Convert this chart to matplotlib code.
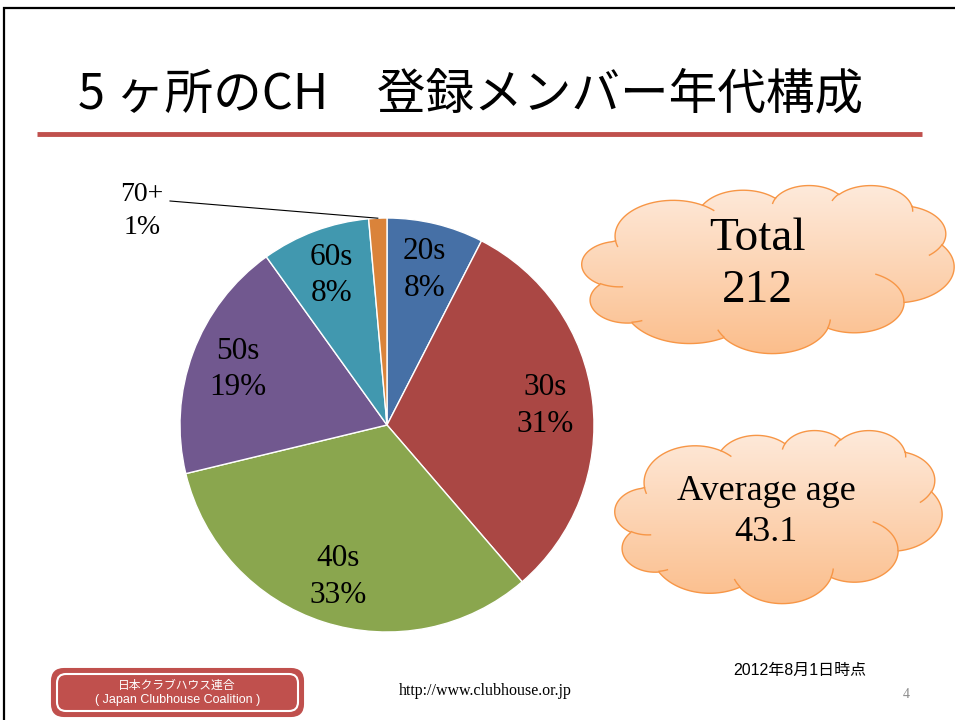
import numpy as np
import matplotlib
matplotlib.use("Agg")
import matplotlib.pyplot as plt
from matplotlib.path import Path
from matplotlib.patches import PathPatch, FancyBboxPatch, Rectangle

# data
ages = ["20s", "30s", "40s", "50s", "60s", "70+"]
counts = [16, 66, 69, 40, 18, 3]
colors = ["#4670A6", "#AA4744", "#8AA64E", "#71588F", "#4198AF", "#DA833A"]
avg_age = 43.1

title = "5 ヶ所のCH　登録メンバー年代構成"
footer_jp = "日本クラブハウス連合"
footer_en = "( Japan Clubhouse Coalition )"
url = "http://www.clubhouse.or.jp"
date_note = "2012年8月1日時点"
page_no = "4"

W, H = 955, 720
SERIF = "Liberation Serif"
CJK = ["Noto Sans CJK JP", "DejaVu Sans"]


def fy(y):
    # slide is laid out in image pixels, y downwards
    return H - y


# PowerPoint "cloud" preset geometry (43200 x 43200 path space)
CLOUD_START = (3900, 14370)
CLOUD_ARCS = [
    (6753, 9190, -11429249, 7426832),
    (5333, 7267, -8646143, 5396714),
    (4365, 5945, -8748475, 5983381),
    (4857, 6595, -7859164, 7034504),
    (5333, 7273, -4722533, 6541615),
    (6775, 9220, -2776035, 7816140),
    (5785, 7867, 37501, 6842000),
    (6752, 9215, 1347096, 6910353),
    (7720, 10543, 3974558, 4542661),
    (4360, 5918, -16496525, 8804134),
    (4345, 5945, -14809710, 9151131),
]
CLOUD_CREASES = [
    ((4693, 26177), (4345, 5945, 5204520, 1585770)),
    ((6928, 34899), (4360, 5918, 4416628, 686848)),
    ((16478, 39090), (6752, 9215, 8257449, 844866)),
    ((28827, 34751), (6752, 9215, 387196, 959901)),
    ((34129, 22954), (5785, 7867, -4217541, 4255042)),
    ((41798, 15354), (5333, 7273, 1819082, 1665090)),
    ((38324, 5426), (4857, 6595, -824660, 891534)),
    ((29078, 3952), (4857, 6595, -8950887, 1091722)),
    ((22141, 4720), (4365, 5945, -9809656, 1061181)),
    ((14000, 5192), (6753, 9190, -4002417, 739161)),
    ((4127, 15789), (6753, 9190, 9459261, 711490)),
]


def arc(x0, y0, wr, hr, st, sw, n=40):
    th = np.deg2rad(np.linspace(st, st + sw, n) / 60000.0)
    t = np.arctan2(wr * np.sin(th), hr * np.cos(th))
    cx = x0 - wr * np.cos(t[0])
    cy = y0 - hr * np.sin(t[0])
    return cx + wr * np.cos(t), cy + hr * np.sin(t)


def to_slide(px, py, box):
    x0, y0, x1, y1 = box
    return x0 + np.asarray(px) / 43200 * (x1 - x0), fy(y0 + np.asarray(py) / 43200 * (y1 - y0))


def cloud(ax, box, text, tx, ty, size, lsp):
    xs, ys = [CLOUD_START[0]], [CLOUD_START[1]]
    for wr, hr, st, sw in CLOUD_ARCS:
        ax_, ay_ = arc(xs[-1], ys[-1], wr, hr, st, sw)
        xs += list(ax_[1:])
        ys += list(ay_[1:])
    X, Y = to_slide(xs, ys, box)
    verts = np.column_stack([X, Y])
    patch = PathPatch(Path(verts, closed=True), facecolor="none",
                      edgecolor="#F79646", linewidth=1.0, zorder=4)
    ax.add_patch(patch)
    grad = np.linspace(0, 1, 256)[:, None, None]
    top = np.array([254, 234, 219]) / 255
    bot = np.array([251, 190, 140]) / 255
    img = top * (1 - grad) + bot * grad
    x0, y0, x1, y1 = box
    im = ax.imshow(img, extent=[x0, x1, fy(y1), fy(y0)], origin="upper",
                   aspect="auto", interpolation="bicubic", zorder=3)
    im.set_clip_path(patch)
    for (sx, sy), (wr, hr, st, sw) in CLOUD_CREASES:
        cx_, cy_ = arc(sx, sy, wr, hr, st, sw)
        CX, CY = to_slide(cx_, cy_, box)
        ax.plot(CX, CY, color="#F79646", lw=1.0, zorder=4)
    ax.text(tx, fy(ty), text, ha="center", va="center",
            fontsize=size, family=SERIF, linespacing=lsp, zorder=5)


fig = plt.figure(figsize=(W / 100, H / 100), dpi=100)
ax = fig.add_axes([0, 0, 1, 1])

# slide frame
ax.add_patch(Rectangle((4, fy(800)), 1000, 792, facecolor="white",
                       edgecolor="black", linewidth=1.6, zorder=0))

ax.text(78, fy(95), title, fontsize=35, family=CJK, ha="left", va="center")
ax.plot([37, 922], [fy(134), fy(134)], color="#C0504D", lw=3.5, solid_capstyle="butt")

# pie
cx, cy, r = 387, fy(425), 207
total = sum(counts)
wedges, _ = ax.pie(counts, colors=colors, startangle=90, counterclock=False,
                   center=(cx, cy), radius=r, frame=True,
                   wedgeprops=dict(edgecolor="white", linewidth=1.0))
for w, age, c in zip(wedges, ages, counts):
    mid = np.deg2rad((w.theta1 + w.theta2) / 2)
    lab = f"{age}\n{100 * c / total:.0f}%"
    if age == "70+":
        ex, ey = cx + r * np.cos(mid), cy + r * np.sin(mid)
        ax.plot([170, ex], [fy(201), ey], color="black", lw=0.8)
        ax.text(142, fy(211), lab, ha="center", va="center", fontsize=20,
                family=SERIF, linespacing=1.45)
    else:
        ax.text(cx + 0.77 * r * np.cos(mid), cy + 0.77 * r * np.sin(mid), lab,
                ha="center", va="center", fontsize=22.5, family=SERIF, linespacing=1.35)

cloud(ax, (582, 185, 954, 353), f"Total\n{total}", 757, 265, 34, 1.3)
cloud(ax, (615, 430, 942, 603), f"Average age\n{avg_age}", 766, 512, 26, 1.3)

# footer
ax.add_patch(FancyBboxPatch((52, fy(716)), 251, 47,
                            boxstyle="round,pad=0,rounding_size=12",
                            facecolor="#C0504D", edgecolor="#C0504D", lw=1.5))
ax.add_patch(FancyBboxPatch((57, fy(711)), 241, 37,
                            boxstyle="round,pad=0,rounding_size=9",
                            facecolor="none", edgecolor="white", lw=1.5))
ax.text(177, fy(685), footer_jp, ha="center", va="center", fontsize=8.5,
        family=CJK, color="white")
ax.text(178, fy(700.5), footer_en, ha="center", va="center", fontsize=9,
        family=["Liberation Sans", "DejaVu Sans"], color="white")
ax.text(485, fy(691), url, ha="center", va="center", fontsize=11.5, family=SERIF)
ax.text(800, fy(670), date_note, ha="center", va="center", fontsize=11.5,
        family=["Liberation Sans", "Noto Sans CJK JP"])
ax.text(906, fy(695), page_no, ha="center", va="center", fontsize=10,
        family=SERIF, color="#8C8C8C")

ax.set_xlim(0, W)
ax.set_ylim(0, H)
ax.set_aspect("equal")
ax.axis("off")
fig.savefig("out.png", dpi=100)
